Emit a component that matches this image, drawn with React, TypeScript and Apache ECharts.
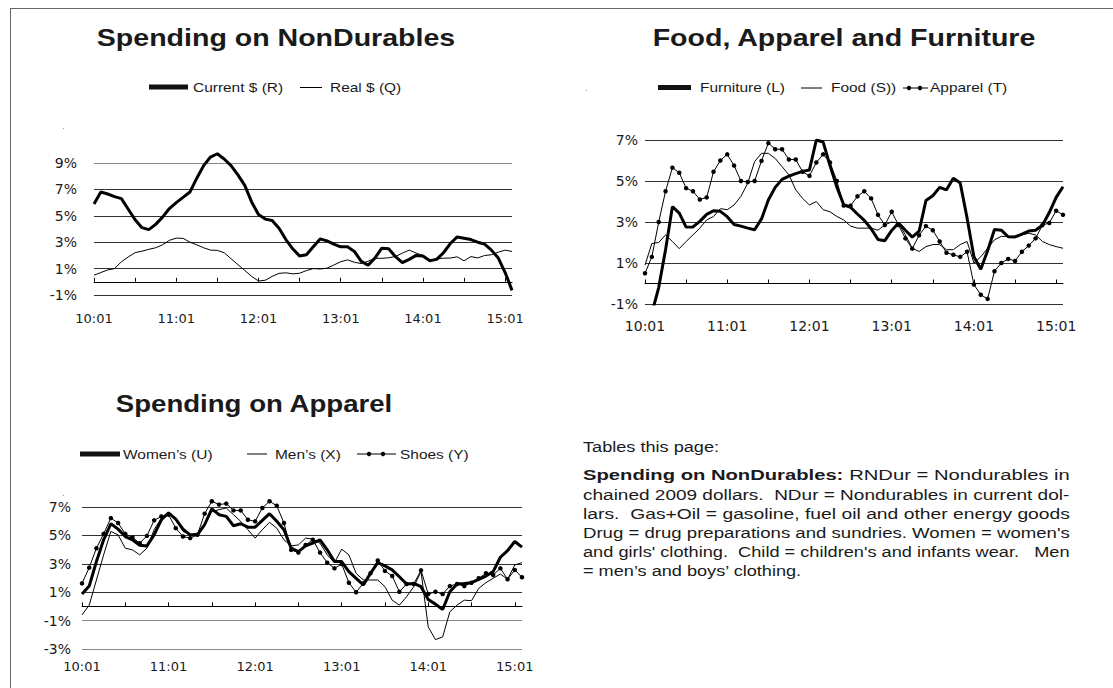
import React, { useEffect, useRef } from "react";
import * as echarts from "echarts";

// ---------- categories (monthly, 2010:01 .. 2015:02) ----------
const months: string[] = [];
for (let y = 10; y <= 15; y++) {
  for (let m = 1; m <= 12; m++) {
    if (months.length < 62) months.push(`${y}:${String(m).padStart(2, "0")}`);
  }
}

// ---------- Panel 1: Spending on NonDurables ----------
const ndurCurrent = [
  5.9, 6.8, 6.65, 6.45, 6.3, 5.5, 4.7, 4.1, 3.95, 4.35,
  4.9, 5.55, 6.0, 6.4, 6.8, 7.85, 8.8, 9.45, 9.7, 9.3,
  8.8, 8.1, 7.3, 6.05, 5.1, 4.75, 4.65, 4.05, 3.2, 2.5,
  1.95, 2.05, 2.65, 3.25, 3.1, 2.85, 2.65, 2.65, 2.3, 1.55,
  1.25, 1.8, 2.55, 2.5, 1.9, 1.45, 1.7, 2.0, 1.95, 1.6,
  1.7, 2.2, 2.9, 3.4, 3.3, 3.2, 3.0, 2.85, 2.4, 1.8,
  0.7, -0.65,
];
const ndurReal = [
  0.5, 0.7, 0.9, 1.0, 1.52, 1.88, 2.21, 2.32, 2.46, 2.58,
  2.8, 3.14, 3.31, 3.29, 3.0, 2.8, 2.58, 2.4, 2.38, 2.2,
  1.75, 1.3, 0.86, 0.41, 0.06, 0.12, 0.41, 0.64, 0.68, 0.6,
  0.65, 0.85, 1.0, 0.97, 1.03, 1.27, 1.52, 1.66, 1.48, 1.38,
  1.56, 1.78, 1.78, 1.82, 1.92, 2.17, 2.4, 2.18, 1.99, 1.67,
  1.72, 1.79, 1.8, 1.89, 1.59, 1.91, 1.81, 1.99, 2.05, 2.24,
  2.4, 2.3,
];
const ndurTicks = { min: -1, max: 9, step: 2 };

// ---------- Panel 2: Food, Apparel and Furniture ----------
const furniture = [
  -2.6, -1.45, -0.2, 1.65, 3.75, 3.43, 2.75, 2.76, 3.03, 3.37,
  3.55, 3.52, 3.26, 2.88, 2.8, 2.7, 2.62, 3.15, 4.07, 4.69,
  5.08, 5.24, 5.36, 5.47, 5.54, 7.0, 6.9, 5.75, 4.7, 3.84,
  3.72, 3.39, 3.08, 2.67, 2.15, 2.09, 2.59, 2.95, 2.6, 2.26,
  2.55, 4.05, 4.28, 4.69, 4.57, 5.13, 4.9, 3.2, 1.3, 0.7,
  1.6, 2.63, 2.6, 2.28, 2.27, 2.41, 2.56, 2.6, 2.84, 3.46,
  4.2, 4.72,
];
const food = [
  0.9, 1.95, 2.0, 2.37, 2.05, 1.7, 2.05, 2.37, 2.7, 3.1,
  3.27, 3.65, 3.6, 3.83, 4.25, 4.9, 5.95, 6.35, 6.35, 6.1,
  5.7, 5.3, 4.57, 4.15, 3.83, 4.0, 3.6, 3.5, 3.27, 3.1,
  2.8, 2.7, 2.7, 2.7, 2.6, 2.86, 3.0, 2.94, 2.37, 1.72,
  1.56, 1.8, 1.9, 1.9, 1.65, 1.65, 1.9, 2.05, 1.0, 1.3,
  1.72, 2.13, 2.3, 2.3, 2.3, 2.37, 2.45, 2.37, 2.05, 1.9,
  1.8, 1.72,
];
const apparel = [
  0.5, 1.3, 3.0, 4.5, 5.65, 5.4, 4.65, 4.5, 4.1, 4.2,
  5.45, 6.0, 6.3, 5.75, 5.0, 4.95, 5.0, 5.98, 6.85, 6.55,
  6.55, 6.05, 6.05, 5.45, 5.25, 5.9, 6.3, 5.9, 5.0, 3.8,
  3.8, 4.25, 4.5, 4.15, 3.35, 2.85, 3.5, 2.85, 2.2, 1.7,
  2.35, 2.8, 2.6, 2.05, 1.5, 1.4, 1.3, 1.55, -0.05, -0.55,
  -0.75, 0.6, 1.0, 1.2, 1.1, 1.55, 1.85, 2.2, 2.85, 2.95,
  3.55, 3.35,
];
const fafTicks = { min: -1, max: 7, step: 2 };

// ---------- Panel 3: Spending on Apparel ----------
const womens = [
  0.87, 1.43, 3.16, 4.69, 5.82, 5.44, 4.92, 4.69, 4.31, 4.26,
  5.04, 6.1, 6.58, 6.15, 5.44, 5.04, 5.04, 5.75, 6.86, 6.46,
  6.34, 5.68, 5.82, 5.58, 5.58, 6.06, 6.53, 5.99, 5.4, 4.1,
  3.86, 4.26, 4.45, 4.69, 3.98, 3.16, 3.16, 2.45, 1.98, 1.51,
  2.33, 3.08, 2.85, 2.57, 2.09, 1.58, 1.62, 1.39, 0.49, 0.16,
  -0.22, 1.03, 1.58, 1.62, 1.67, 1.91, 2.14, 2.45, 3.46, 3.93,
  4.57, 4.17,
];
const mens = [
  -0.6, 0.09, 1.86, 3.63, 5.28, 5.04, 4.1, 3.98, 3.63, 4.1,
  5.4, 6.22, 6.62, 6.1, 5.28, 5.04, 5.16, 5.87, 6.69, 6.81,
  6.93, 6.46, 5.99, 5.4, 4.81, 5.4, 5.92, 5.51, 4.69, 4.26,
  4.33, 4.81, 4.74, 4.45, 3.63, 3.08, 4.03, 3.63, 2.33, 1.86,
  1.86, 1.86, 1.39, 0.44, 0.09, 0.68, 1.39, 2.45, -1.44, -2.34,
  -2.15, -0.38, 0.09, 0.44, 0.4, 1.27, 1.67, 1.98, 2.28, 1.91,
  2.92, 3.08,
];
const shoes = [
  1.62, 2.73, 4.1, 5.11, 6.22, 5.87, 5.11, 4.85, 4.45, 4.97,
  6.06, 6.34, 6.46, 5.51, 4.92, 4.81, 5.04, 6.53, 7.4, 7.17,
  7.24, 6.76, 6.76, 6.1, 5.99, 6.93, 7.4, 7.09, 5.87, 3.98,
  3.79, 4.33, 4.69, 3.79, 3.08, 2.68, 2.99, 1.67, 1.0, 1.62,
  2.33, 3.23, 2.5, 2.14, 1.03, 1.58, 1.58, 2.54, 0.87, 1.03,
  0.87, 1.43, 1.58, 1.43, 1.67, 1.98, 2.33, 2.21, 2.68, 1.91,
  2.57, 2.05,
];
const appTicks = { min: -3, max: 7, step: 2 };

// ---------- text ----------
const titles = ["Spending on NonDurables", "Food, Apparel and Furniture", "Spending on Apparel"];
const legend1 = ["Current $ (R)", "Real $ (Q)"];
const legend2 = ["Furniture (L)", "Food (S))", "Apparel (T)"];
const legend3 = ["Women\u2019s (U)", "Men\u2019s (X)", "Shoes (Y)"];
const bodyHeading = "Tables this page:";
const bodyBold = "Spending on NonDurables:";
const bodyLines = [
  " RNDur = Nondurables in",
  "chained 2009 dollars.  NDur = Nondurables in current dol-",
  "lars.  Gas+Oil = gasoline, fuel oil and other energy goods",
  "Drug = drug preparations and sundries. Women = women's",
  "and girls' clothing.  Child = children's and infants wear.   Men",
  "= men\u2019s and boys\u2019 clothing.",
];

const INK = "#1a1a1a";
const FF = '"Liberation Sans", Arial, sans-serif';
const AXF = '"DejaVu Sans", sans-serif';
const SX = 1.19;

function txt(text: string, x: number, y: number, size: number, o: any = {}) {
  const align = o.align || "left";
  return {
    type: "text",
    x,
    y,
    scaleX: o.sx || SX,
    silent: true,
    z: 10,
    style: {
      text,
      font: `${o.bold ? "bold " : ""}${size}px ${FF}`,
      fill: o.fill || INK,
      align,
      verticalAlign: "middle",
      textAlign: align,
      textVerticalAlign: "middle",
    },
  };
}
function hline(x1: number, x2: number, y: number, w: number, color = "#000") {
  return { type: "line", silent: true, z: 10, shape: { x1, y1: y, x2, y2: y }, style: { stroke: color, lineWidth: w } };
}
function dot(cx: number, cy: number) {
  return { type: "circle", silent: true, z: 11, shape: { cx, cy, r: 2.2 }, style: { fill: "#000" } };
}

function measure(text: string, font: string) {
  const c = document.createElement("canvas").getContext("2d");
  if (!c) return text.length * 7;
  c.font = font;
  return c.measureText(text).width;
}

function xAxesFor(gridIndex: number, fontSize: number, margin: number) {
  return [
    {
      type: "category",
      gridIndex,
      data: months,
      boundaryGap: false,
      position: "bottom",
      axisLine: { show: false, onZero: false },
      axisTick: { show: false },
      splitLine: { show: false },
      axisLabel: { interval: 11, margin, fontFamily: AXF, fontSize, color: INK },
    },
    {
      type: "category",
      gridIndex,
      data: months,
      boundaryGap: false,
      position: "bottom",
      axisLine: { show: true, onZero: true, lineStyle: { color: "#000", width: 1 } },
      axisTick: { show: true, inside: true, length: 4, interval: 5, lineStyle: { color: "#000", width: 1 } },
      axisLabel: { show: false },
      splitLine: { show: false },
    },
  ];
}
function yAxisFor(gridIndex: number, t: { min: number; max: number; step: number }, fontSize: number, margin: number, colors: string[]) {
  return {
    type: "value",
    gridIndex,
    min: t.min,
    max: t.max,
    interval: t.step,
    axisLine: { show: false },
    axisTick: { show: false },
    axisLabel: { formatter: "{value}%", margin, fontFamily: AXF, fontSize, color: INK },
    splitLine: { show: true, lineStyle: { color: colors, width: 1 } },
  };
}
function lineSeries(name: string, data: number[], axis: number, width: number, clip: boolean, markers = false) {
  return {
    type: "line",
    name,
    data,
    xAxisIndex: axis * 2,
    yAxisIndex: axis,
    smooth: false,
    clip,
    silent: true,
    symbol: markers ? "circle" : "none",
    showSymbol: markers,
    showAllSymbol: true,
    symbolSize: 4.5,
    itemStyle: { color: "#000" },
    lineStyle: { color: "#000", width },
    z: width > 2 ? 4 : 3,
  };
}

function buildOption() {
  // body text, each justified line fitted to the column width
  const bodyX = 583;
  const colW = 487;
  const baseSX = 1.17;
  const bodyY = [475, 494.2, 513.4, 532.6, 551.8, 571];
  const nf = `15.5px ${FF}`;
  const bf = `bold 15.5px ${FF}`;
  const body: any[] = [];
  body.push(txt(bodyHeading, bodyX, 447, 15.5, { sx: baseSX }));
  {
    const wb = measure(bodyBold, bf);
    const wn = measure(bodyLines[0], nf);
    const s = Math.min(1.32, Math.max(1.1, colW / (wb + wn)));
    body.push(txt(bodyBold, bodyX, bodyY[0], 15.5, { sx: s, bold: true }));
    body.push(txt(bodyLines[0], bodyX + wb * s, bodyY[0], 15.5, { sx: s }));
  }
  for (let i = 1; i < bodyLines.length; i++) {
    const last = i === bodyLines.length - 1;
    const w = measure(bodyLines[i], nf);
    const s = last ? baseSX : Math.min(1.32, Math.max(1.1, colW / w));
    body.push(txt(bodyLines[i], bodyX, bodyY[i], 15.5, { sx: s }));
  }

  const graphics: any[] = [
    // frame
    { type: "line", silent: true, shape: { x1: 10, y1: 8.5, x2: 1113, y2: 8.5 }, style: { stroke: "#666", lineWidth: 1 } },
    { type: "line", silent: true, shape: { x1: 10.5, y1: 8, x2: 10.5, y2: 688 }, style: { stroke: "#666", lineWidth: 1 } },
    // titles
    txt(titles[0], 276, 38, 24, { bold: true, align: "center" }),
    txt(titles[1], 844, 38, 24, { bold: true, align: "center" }),
    txt(titles[2], 254, 404, 24, { bold: true, align: "center", sx: 1.15 }),
    // legend 1
    { type: "rect", silent: true, z: 10, shape: { x: 149, y: 84.5, width: 39, height: 5 }, style: { fill: "#111" } },
    txt(legend1[0], 193, 87, 13),
    hline(300, 322, 87.5, 1),
    txt(legend1[1], 330, 87, 13),
    // legend 2
    { type: "rect", silent: true, z: 10, shape: { x: 658, y: 85, width: 33, height: 5 }, style: { fill: "#111" } },
    txt(legend2[0], 700, 87.5, 13),
    hline(801, 822, 88, 1),
    txt(legend2[1], 831, 87.5, 13),
    hline(903, 928, 88, 1),
    dot(909, 88),
    dot(920, 88),
    txt(legend2[2], 930, 87.5, 13),
    // legend 3
    { type: "rect", silent: true, z: 10, shape: { x: 80, y: 451.5, width: 40, height: 5 }, style: { fill: "#111" } },
    txt(legend3[0], 123, 454, 13),
    hline(247, 267, 454, 1),
    txt(legend3[1], 275, 454, 13),
    hline(357, 396, 454, 1),
    dot(369, 454),
    dot(383, 454),
    txt(legend3[2], 400, 454, 13),
    // stray dots of the original page
    txt(".", 62, 125, 10, { fill: "#888", sx: 1 }),
    txt(".", 585, 87, 10, { fill: "#888", sx: 1 }),
    txt(".", 62, 492, 10, { fill: "#888", sx: 1 }),
    ...body,
  ];

  return {
    animation: false,
    backgroundColor: "#ffffff",
    grid: [
      { left: 94, top: 163, width: 418, height: 132, containLabel: false, outerBoundsMode: "none" },
      { left: 645, top: 140, width: 418, height: 164, containLabel: false, outerBoundsMode: "none" },
      { left: 82, top: 507, width: 440, height: 142, containLabel: false, outerBoundsMode: "none" },
    ],
    xAxis: [...xAxesFor(0, 13, 17), ...xAxesFor(1, 14, 15), ...xAxesFor(2, 13, 11)],
    yAxis: [
      yAxisFor(0, ndurTicks, 14, 17, ["#333", "#333", "#333", "#333", "#333", "#888"]),
      yAxisFor(1, fafTicks, 14, 7, ["#333"]),
      yAxisFor(2, appTicks, 14, 11, ["#888", "#888", "#333", "#333", "#333", "#333"]),
    ],
    series: [
      lineSeries(legend1[1], ndurReal, 0, 1, false),
      lineSeries(legend1[0], ndurCurrent, 0, 3, false),
      lineSeries(legend2[1], food, 1, 1, true),
      lineSeries(legend2[2], apparel, 1, 1, true, true),
      lineSeries(legend2[0], furniture, 1, 3, true),
      lineSeries(legend3[1], mens, 2, 1, false),
      lineSeries(legend3[2], shoes, 2, 1, false, true),
      lineSeries(legend3[0], womens, 2, 3, false),
    ],
    graphic: graphics,
  };
}

export default function App() {
  const ref = useRef<HTMLDivElement>(null);
  useEffect(() => {
    if (!ref.current) return;
    const chart = echarts.init(ref.current, null, { renderer: "svg" });
    chart.setOption(buildOption() as any);
    return () => chart.dispose();
  }, []);
  return (
    <div
      ref={ref}
      style={{ position: "absolute", left: 0, top: 0, width: 1113, height: 688, background: "#fff" }}
    />
  );
}
